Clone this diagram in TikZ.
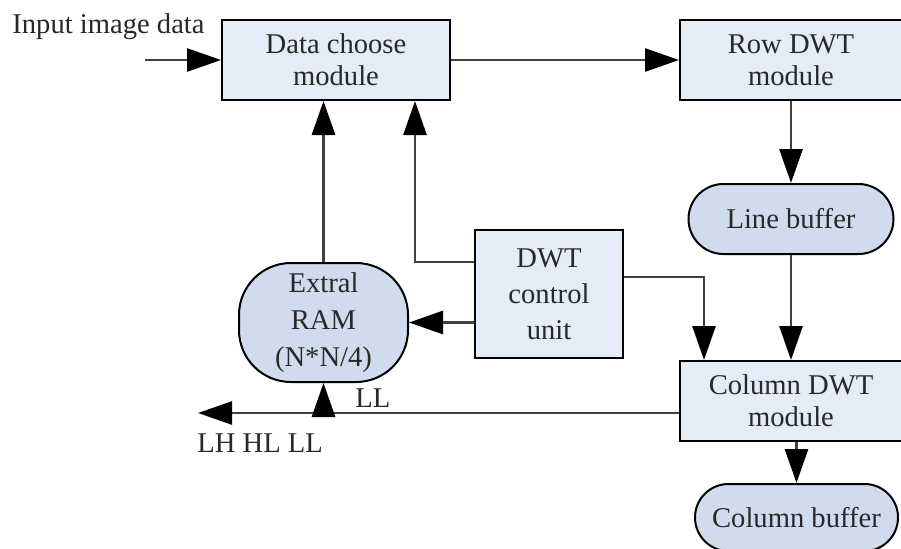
\documentclass[tikz,border=0pt]{standalone}
\usepackage{fontspec}
\setmainfont{Liberation Serif}
\usetikzlibrary{arrows.meta,positioning}

\definecolor{boxfill}{RGB}{228,236,248}
\definecolor{buffill}{RGB}{208,220,238}
\definecolor{linegray}{RGB}{64,64,64}
\definecolor{textgray}{RGB}{40,40,40}

\begin{document}
\begin{tikzpicture}[x=0.5pt, y=-0.5pt, node distance=20pt and 20pt,
    every node/.style={font=\fontsize{14.3}{16}\selectfont, text=textgray},
    >={Triangle[length=17pt, width=11.5pt, color=black]},
    conn/.style={draw=linegray, line width=1.4pt},
    modbox/.style={draw, line width=1pt, fill=boxfill, align=center, inner sep=0pt},
    bufbox/.style={draw, line width=1pt, fill=buffill, align=center, inner sep=0pt}]

  \useasboundingbox (0,0) rectangle (901,548);

  % Modules
  \node (choose) [modbox, minimum width=114pt, minimum height=40pt] at (336,60) {Data choose\\module};
  \node (row) [modbox, right=114pt of choose, minimum width=111pt, minimum height=40pt] {Row DWT\\module};
  \node (linebuf) [bufbox, below=41pt of row, minimum width=102.5pt, minimum height=35pt, rounded corners=17.5pt] {Line buffer};
  \node (coldwt) [modbox, below=52.5pt of linebuf, minimum width=111pt, minimum height=40pt] {Column DWT\\module};
  \node (colbuf) [bufbox, below=20.5pt of coldwt, xshift=2.75pt, minimum width=101.5pt, minimum height=33.5pt, rounded corners=16.75pt] {Column buffer};
  \node (ctrl) [modbox, minimum width=74pt, minimum height=64pt,
    font=\fontsize{14.3}{18}\selectfont] at (549,294) {DWT\\control\\unit};
  \node (ram) [bufbox, minimum width=84.5pt, minimum height=59.5pt, rounded corners=26pt,
    font=\fontsize{14.3}{18.5}\selectfont] at (323.5,322.5) {Extral\\RAM\\(N*N/4)};

  % Labels
  \node (inlabel) [anchor=base west, inner sep=0pt] at (12,33) {Input image data};
  \node (outlabel) [anchor=base west, inner sep=0pt] at (197,452) {LH HL LL};
  \node (lllabel) [anchor=base west, inner sep=0pt] at (355,407) {LL};

  % Corner points
  \coordinate (in) at (145,60);
  \coordinate (cup) at (415,262);
  \coordinate (cdn) at (704,277);
  \coordinate (out) at (198,413);

  % Connectors
  \draw[conn, ->] (in) -- (choose.west);
  \draw[conn, ->] (choose.east) -- (row.west);
  \draw[conn, ->] (row.south) -- (linebuf.north);
  \draw[conn, ->] (linebuf.south) -- (linebuf.south |- coldwt.north);
  \draw[conn, ->] (coldwt.south -| colbuf.north) -- (colbuf.north);
  \draw[conn, ->] (ram.north) -- (ram.north |- choose.south);
  \draw[conn, ->] (cup -| ctrl.west) -- (cup) -- (cup |- choose.south);
  \draw[conn, ->] (ctrl.west |- ram.east) -- (ram.east);
  \draw[conn, ->] (cdn -| ctrl.east) -- (cdn) -- (cdn |- coldwt.north);
  \draw[conn, ->] (coldwt.west |- out) -- (out);
  \draw[conn, ->] (ram.south |- out) -- (ram.south);

\end{tikzpicture}
\end{document}
